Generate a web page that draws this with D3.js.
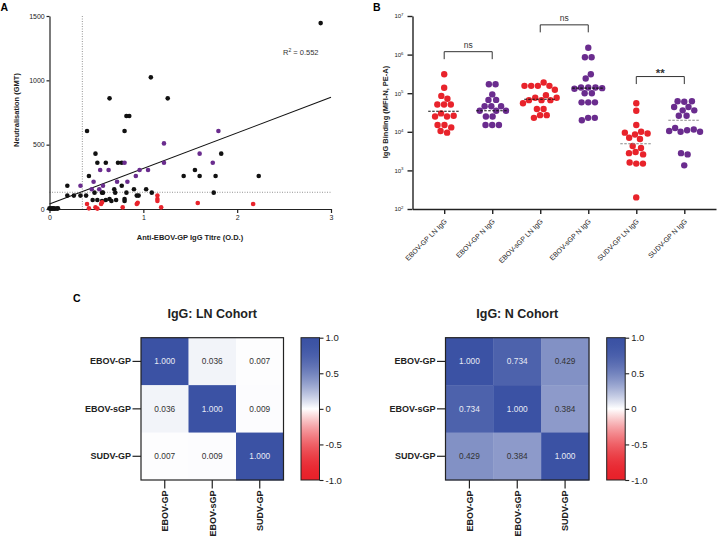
<!DOCTYPE html>
<html><head><meta charset="utf-8">
<script src="https://cdn.jsdelivr.net/npm/d3@7"></script>
<style>body{margin:0;background:#fff;} svg{display:block;}</style>
</head><body>
<svg id="chart" width="719" height="544"></svg>
<script>
// ================= DATA =================
// Panel A: [IgG titre (O.D.), neutralisation GMT]
const neutBlack = [[0.00,5],[0.01,2],[0.02,5],[0.03,3],[0.04,6],[0.05,2],[0.06,4],[0.08,3],[0.09,5],
  [0.19,181],[0.19,104],[0.26,104],[0.33,104],[0.39,104],[0.40,606],[0.42,256],[0.48,127],[0.46,70],
  [0.49,430],[0.51,360],[0.51,70],[0.56,127],[0.57,127],[0.56,62],[0.60,70],[0.60,360],[0.64,860],
  [0.64,78],[0.66,62],[0.69,153],[0.70,127],[0.71,70],[0.73,360],[0.77,360],[0.77,181],[0.80,606],
  [0.80,78],[0.80,62],[0.82,127],[0.82,723],[0.85,723],[0.90,153],[0.93,104],[0.95,104],[1.03,153],
  [1.08,1023],[1.09,127],[1.26,860],[1.43,256],[1.55,303],[1.60,256],[1.75,127],[1.77,256],[1.83,430],
  [2.23,256],[2.89,1445]];
const neutPurple = [[0.33,181],[0.45,153],[0.47,212],[0.53,153],[0.54,303],[0.57,181],[0.63,303],
  [0.72,212],[0.80,360],[0.83,212],[0.92,256],[0.96,303],[1.05,303],[1.22,510],[1.22,360],[1.60,430],
  [1.74,360],[1.80,606]];
const neutRed = [[0.40,39],[0.42,5],[0.49,13],[0.51,3],[0.55,39],[0.56,52],[0.78,13],[0.93,39],
  [0.94,49],[1.15,104],[1.15,78],[1.15,62],[1.19,13],[1.58,47],[2.17,39]];
const regLine = [[0,39],[3,868]];
const rSquared = "0.552";
const xThreshold = 0.35, yThreshold = 130;
const aXTicks = [0,1,2,3], aYTicks = [0,500,1000,1500];

// Panel B
const bCategories = ["EBOV-GP LN IgG","EBOV-GP N IgG","EBOV-sGP LN IgG","EBOV-sGP N IgG","SUDV-GP LN IgG","SUDV-GP N IgG"];
const bValues = [
  [3.1e5,1.38e5,8.5e4,7.2e4,5.1e4,5.1e4,5.1e4,3.0e4,2.6e4,2.5e4,2.5e4,1.5e4,1.5e4,1.3e4,1.05e4,9.5e3],
  [1.7e5,1.7e5,9.3e4,6.7e4,6.7e4,4.6e4,4.6e4,4.6e4,3.5e4,3.5e4,3.5e4,2.5e4,2.5e4,1.5e4,1.5e4,1.5e4],
  [1.9e5,1.55e5,1.55e5,1.55e5,1.55e5,1.23e5,8.9e4,7.6e4,7.6e4,6.6e4,6.6e4,6.6e4,5.5e4,3.9e4,3.9e4,2.7e4,2.7e4,2.3e4],
  [1.5e6,8.5e5,8.5e5,3.1e5,2.4e5,1.4e5,1.4e5,1.4e5,1.35e5,1.3e5,1.0e5,1.0e5,5.8e4,5.8e4,5.8e4,2.3e4,2.3e4,2.0e4],
  [5.5e4,3.5e4,1.5e4,1.0e4,9.5e3,9e3,8.5e3,7e3,6.5e3,4.3e3,3.8e3,3.0e3,2.8e3,2.6e3,1.6e3,1.5e3,1.5e3,2.0e2],
  [6.2e4,6.2e4,6.0e4,4.4e4,4.4e4,3.6e4,3.6e4,2.6e4,2.6e4,1.26e4,1.15e4,1.1e4,1.05e4,1.0e4,1.0e4,2.8e3,2.6e3,1.35e3]
];
const bMedians = [3.4e4,3.5e4,7.0e4,1.35e5,4.9e3,2.0e4];
const bCohort = ["LN","N","LN","N","LN","N"];
const bYExponents = [2,3,4,5,6,7];
const compPairs = [[0,1],[2,3],[4,5]];
const compLabels = ["ns","ns","**"];
const compLevels = [1.19e6,5.9e6,2.7e5];

// Panel C
const hmLabels = ["EBOV-GP","EBOV-sGP","SUDV-GP"];
const lnMatrix = [[1.000,0.036,0.007],[0.036,1.000,0.009],[0.007,0.009,1.000]];
const nMatrix  = [[1.000,0.734,0.429],[0.734,1.000,0.384],[0.429,0.384,1.000]];
const hmTitles = ["IgG: LN Cohort","IgG: N Cohort"];
const cbTicks = [1.0,0.5,0,-0.5,-1.0];
const cbTickLabels = ["1.0","0.5","0","-0.5","-1.0"];

// ================= STYLE =================
const FONT = '"Liberation Sans", Arial, Helvetica, sans-serif';
const RED = "#E8232B", PURPLE = "#6A2C8E", BLACK = "#111", INK = "#222";
const svg = d3.select("#chart").attr("font-family", FONT);

function styleAxis(g, fs, sw, bold) {
  g.attr("font-family", FONT);
  g.select(".domain").attr("stroke", INK).attr("stroke-width", sw);
  g.selectAll(".tick line").attr("stroke", INK).attr("stroke-width", sw);
  g.selectAll(".tick text").attr("font-size", fs).attr("fill", INK).attr("font-weight", bold ? "bold" : "normal");
}

// ================= PANEL A =================
const ax = d3.scaleLinear().domain([0,3]).range([49.5,331]);
const ay = d3.scaleLinear().domain([0,1500]).range([209,16]);
const gA = svg.append("g");
gA.append("text").attr("x",0.5).attr("y",10.5).attr("font-size",10.5).attr("font-weight","bold").text("A");

gA.append("line").attr("x1",ax(xThreshold)).attr("x2",ax(xThreshold)).attr("y1",ay(1500)).attr("y2",ay(0))
  .attr("stroke","#777").attr("stroke-width",0.8).attr("stroke-dasharray","1,1.5");
gA.append("line").attr("x1",ax(0)).attr("x2",ax(3)).attr("y1",ay(yThreshold)).attr("y2",ay(yThreshold))
  .attr("stroke","#777").attr("stroke-width",0.8).attr("stroke-dasharray","1,1.5");
gA.append("line").attr("x1",ax(regLine[0][0])).attr("y1",ay(regLine[0][1]))
  .attr("x2",ax(regLine[1][0])).attr("y2",ay(regLine[1][1])).attr("stroke",BLACK).attr("stroke-width",1.1);

const gAx = gA.append("g").attr("transform",`translate(0,${ay(0)})`)
  .call(d3.axisBottom(ax).tickValues(aXTicks).tickFormat(d3.format("d")).tickSize(4).tickSizeOuter(0).tickPadding(2.5));
styleAxis(gAx, 7, 1.2);
const gAy = gA.append("g").attr("transform",`translate(${ax(0)},0)`)
  .call(d3.axisLeft(ay).tickValues(aYTicks).tickFormat(d3.format("d")).tickSize(3).tickSizeOuter(0).tickPadding(1.8));
styleAxis(gAy, 7, 1.2);

[[neutBlack,BLACK],[neutPurple,PURPLE],[neutRed,RED]].forEach(([arr,col]) => {
  gA.append("g").selectAll("circle").data(arr).join("circle")
    .attr("cx",d=>ax(d[0])).attr("cy",d=>ay(d[1])).attr("r",2.3).attr("fill",col);
});

const rt = gA.append("text").attr("x",283).attr("y",55).attr("font-size",7.5).attr("fill","#333");
rt.append("tspan").text("R");
rt.append("tspan").attr("dy",-3).attr("font-size",5).text("2");
rt.append("tspan").attr("dy",3).text(" = " + rSquared);

gA.append("text").attr("transform","translate(19,110) rotate(-90)").attr("text-anchor","middle")
  .attr("font-size",7.5).attr("font-weight","bold").attr("fill",INK).text("Neutralisation (GMT)");
gA.append("text").attr("x",190).attr("y",240).attr("text-anchor","middle")
  .attr("font-size",7.5).attr("font-weight","bold").attr("fill",INK).text("Anti-EBOV-GP IgG Titre (O.D.)");

// ================= PANEL B =================
const bx = d3.scalePoint().domain(bCategories).range([412.5,716]).padding(0.66);
const by = d3.scaleLog().domain([1e2,1e7]).range([209,16]);
const gB = svg.append("g");
gB.append("text").attr("x",373).attr("y",10.5).attr("font-size",10.5).attr("font-weight","bold").text("B");

const gBy = gB.append("g").attr("transform",`translate(${bx.range()[0]},0)`)
  .call(d3.axisLeft(by).tickValues(bYExponents.map(e=>Math.pow(10,e))).tickSize(5).tickSizeOuter(0).tickPadding(4).tickFormat(""));
styleAxis(gBy, 6, 1.4);
gBy.selectAll(".tick text").each(function(d){
  const t = d3.select(this);
  t.append("tspan").text("10");
  t.append("tspan").attr("dy",-2.5).attr("font-size",4.3).text(String(Math.round(Math.log10(d))));
});
const gBx = gB.append("g").attr("transform",`translate(0,${by(1e2)})`)
  .call(d3.axisBottom(bx).tickSize(5).tickSizeOuter(0));
styleAxis(gBx, 7, 1.4);
gBx.selectAll(".tick text").attr("x",0).attr("y",0).attr("dy",0).attr("text-anchor","end")
  .attr("transform","translate(2.7,13) rotate(-45)");

gB.append("text").attr("transform","translate(388,112) rotate(-90)").attr("text-anchor","middle")
  .attr("font-size",7.5).attr("font-weight","bold").attr("fill",INK).text("IgG Binding (MFI-N, PE-A)");

const phi = Math.PI*(3-Math.sqrt(5));
bCategories.forEach((cat,i) => {
  const cx = bx(cat);
  const nodes = bValues[i].map((v,j) => ({v, x: cx + 6*Math.sqrt(0.5+j)*Math.cos(j*phi), fy: by(v)}));
  const sim = d3.forceSimulation(nodes)
    .force("x", d3.forceX(cx).strength(0.08))
    .force("c", d3.forceCollide(3.35).iterations(3)).stop();
  for (let k=0;k<400;k++) sim.tick();
  const col = bCohort[i] === "LN" ? RED : PURPLE;
  gB.append("g").selectAll("circle").data(nodes).join("circle")
    .attr("cx",d=>d.x).attr("cy",d=>d.fy).attr("r",3.2).attr("fill",col);
  gB.append("line").attr("x1",cx-16).attr("x2",cx+16).attr("y1",by(bMedians[i])).attr("y2",by(bMedians[i]))
    .attr("stroke", i<4 ? "#111" : "#888").attr("stroke-width",1.1).attr("stroke-dasharray","2.5,1.5");
});

compPairs.forEach((p,k) => {
  const x1 = bx(bCategories[p[0]]), x2 = bx(bCategories[p[1]]), yb = by(compLevels[k]);
  gB.append("path").attr("d",`M${x1},${yb+7.5}V${yb}H${x2}V${yb+7.5}`)
    .attr("fill","none").attr("stroke","#333").attr("stroke-width",1);
  const isStar = compLabels[k] === "**";
  gB.append("text").attr("x",(x1+x2)/2).attr("y", isStar ? yb+0.5 : yb-3.5).attr("text-anchor","middle")
    .attr("font-size", isStar ? 11.5 : 8.5).attr("font-weight", isStar ? "bold" : "normal")
    .attr("fill","#333").text(compLabels[k]);
});

// ================= PANEL C =================
svg.append("text").attr("x",73).attr("y",301.5).attr("font-size",10.5).attr("font-weight","bold").text("C");

const BLUE_END = "#3B52A4", RED_END = "#E8212A";
function ramp(v) {
  const t = 1 - Math.pow(1 - Math.min(1, Math.abs(v)), 1.8);
  return d3.interpolateRgb("#ffffff", v >= 0 ? BLUE_END : RED_END)(t);
}
const hmColor = d3.scaleDiverging([-1,0,1], t => ramp(2*t - 1));

const defs = svg.append("defs");
const grad = defs.append("linearGradient").attr("id","cbgrad").attr("x1",0).attr("y1",1).attr("x2",0).attr("y2",0);
d3.range(0,1.0001,0.025).forEach(o => grad.append("stop").attr("offset",o).attr("stop-color",hmColor(-1+2*o)));

function drawHeatmap(matrix, title, x0, x1, cbx) {
  const y0 = 337.7, y1 = 480;
  const hx = d3.scaleBand().domain(hmLabels).range([x0,x1]);
  const hy = d3.scaleBand().domain(hmLabels).range([y0,y1]);
  const g = svg.append("g");
  const cells = [];
  matrix.forEach((row,r) => row.forEach((v,c) => cells.push({r,c,v})));
  g.selectAll("rect.cell").data(cells).join("rect").attr("class","cell")
    .attr("x",d=>hx(hmLabels[d.c])).attr("y",d=>hy(hmLabels[d.r]))
    .attr("width",hx.bandwidth()+0.4).attr("height",hy.bandwidth()+0.4).attr("fill",d=>hmColor(d.v));
  g.selectAll("text.val").data(cells).join("text").attr("class","val")
    .attr("x",d=>hx(hmLabels[d.c])+hx.bandwidth()/2).attr("y",d=>hy(hmLabels[d.r])+hy.bandwidth()/2)
    .attr("dy","0.35em").attr("text-anchor","middle").attr("font-size",8.3)
    .attr("fill",d=>d.v>0.6 ? "#E8EAF4" : "#333").text(d=>d3.format(".3f")(d.v));
  g.append("rect").attr("x",x0).attr("y",y0).attr("width",x1-x0).attr("height",y1-y0)
    .attr("fill","none").attr("stroke","#222").attr("stroke-width",1.2);
  const gl = g.append("g").attr("transform",`translate(${x0},0)`).call(d3.axisLeft(hy).tickSize(8.5).tickSizeOuter(0).tickPadding(1.5));
  styleAxis(gl, 9, 1.2, true); gl.select(".domain").remove();
  const gb = g.append("g").attr("transform",`translate(0,${y1})`).call(d3.axisBottom(hx).tickSize(8.5).tickSizeOuter(0));
  styleAxis(gb, 9, 1.2, true); gb.select(".domain").remove();
  gb.selectAll(".tick text").attr("x",0).attr("y",0).attr("dy",0).attr("text-anchor","end")
    .attr("transform","translate(3.3,10.5) rotate(-90)");
  g.append("text").attr("x",(x0+x1)/2).attr("y",318).attr("text-anchor","middle")
    .attr("font-size",12.5).attr("font-weight","bold").attr("fill",INK).text(title);
  // colour bar
  const cy = d3.scaleLinear().domain([-1,1]).range([y1,y0]);
  const cbw = 18.5;
  g.append("rect").attr("x",cbx).attr("y",y0).attr("width",cbw).attr("height",y1-y0)
    .attr("fill","url(#cbgrad)").attr("stroke","#222").attr("stroke-width",1);
  const ga = g.append("g").attr("transform",`translate(${cbx+cbw},0)`)
    .call(d3.axisRight(cy).tickValues(cbTicks).tickSize(4).tickSizeOuter(0).tickPadding(2)
      .tickFormat((d,i)=>cbTickLabels[i]));
  styleAxis(ga, 9.5, 1.1); ga.select(".domain").remove();
  ga.selectAll(".tick text").attr("fill","#222");
}
drawHeatmap(lnMatrix, hmTitles[0], 141, 283.5, 301);
drawHeatmap(nMatrix, hmTitles[1], 445.5, 589, 606.7);
</script>
</body></html>
